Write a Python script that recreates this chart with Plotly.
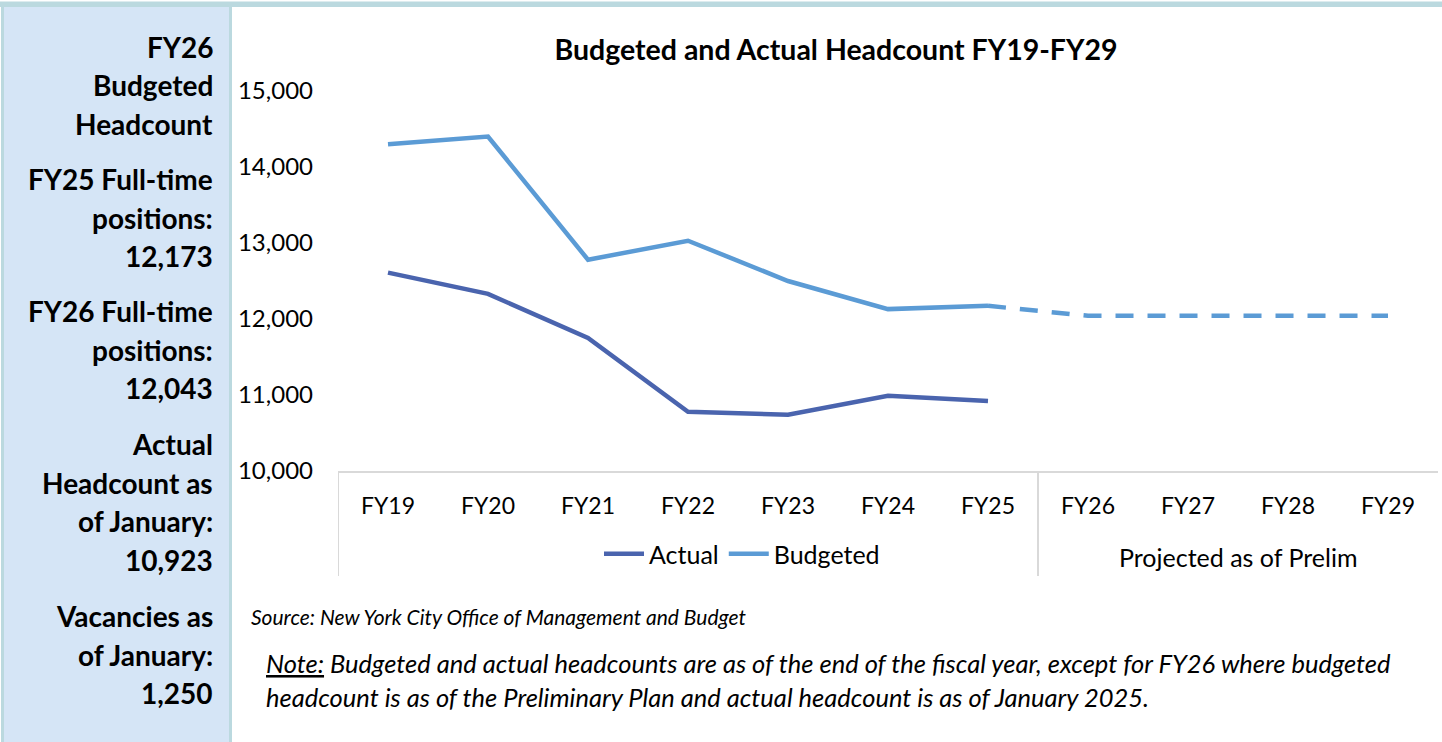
import plotly.graph_objects as go

# fiscal years on the category axis
years = ["FY19", "FY20", "FY21", "FY22", "FY23", "FY24", "FY25",
         "FY26", "FY27", "FY28", "FY29"]

# actual headcount, end of fiscal year
actual_years = years[:7]
actual = [12610, 12330, 11750, 10780, 10740, 10990, 10920]

# budgeted headcount, end of fiscal year
budget_years = years[:7]
budgeted = [14300, 14400, 12780, 13030, 12500, 12130, 12173]

# budgeted headcount projected as of the Preliminary Plan
proj_years = years[6:]
projected = [12173, 12043, 12043, 12043, 12043]

y_ticks = [10000, 11000, 12000, 13000, 14000, 15000]

sidebar = [
    ["FY26", "Budgeted", "Headcount"],
    ["FY25 Full-time", "positions:", "12,173"],
    ["FY26 Full-time", "positions:", "12,043"],
    ["Actual", "Headcount as", "of January:", "10,923"],
    ["Vacancies as", "of January:", "1,250"],
]

title = "Budgeted and Actual Headcount FY19-FY29"
source = "Source: New York City Office of Management and Budget"
note_lines = [
    "<span style='text-decoration:underline'>Note:</span> Budgeted and actual headcounts "
    "are as of the end of the fiscal year, except for FY26 where budgeted",
    "headcount is as of the Preliminary Plan and actual headcount is as of January 2025.",
]
group_label = "Projected as of Prelim"

ACTUAL_BLUE = "#4A64AE"
BUDGET_BLUE = "#5B9BD5"
SIDEBAR_FILL = "#D5E5F6"
BORDER = "#BBD9DF"
FONT = "Lato"

W, H = 1442, 742
L, R, T, B = 338, 4, 91, 271


def px_x(px):
    """pixel column -> paper x"""
    return (px - L) / (W - L - R)


def px_y(py):
    """pixel row -> paper y"""
    return (H - B - py) / (H - T - B)


fig = go.Figure()
fig.add_trace(go.Scatter(x=actual_years, y=actual, name="Actual", mode="lines",
                         line=dict(color=ACTUAL_BLUE, width=4.5)))
fig.add_trace(go.Scatter(x=budget_years, y=budgeted, name="Budgeted", mode="lines",
                         line=dict(color=BUDGET_BLUE, width=4.5)))
fig.add_trace(go.Scatter(x=proj_years, y=projected, mode="lines", showlegend=False,
                         line=dict(color=BUDGET_BLUE, width=4.5, dash="18px,14px")))

shapes = [
    # sidebar and frame
    dict(type="rect", xref="paper", yref="paper", x0=px_x(4), x1=px_x(229),
         y0=px_y(742), y1=px_y(7), fillcolor=SIDEBAR_FILL, line_width=0, layer="below"),
    dict(type="rect", xref="paper", yref="paper", x0=px_x(0), x1=px_x(1442),
         y0=px_y(7), y1=px_y(1.5), fillcolor=BORDER, line_width=0),
    dict(type="rect", xref="paper", yref="paper", x0=px_x(1), x1=px_x(4),
         y0=px_y(742), y1=px_y(7), fillcolor=BORDER, line_width=0),
    dict(type="rect", xref="paper", yref="paper", x0=px_x(229), x1=px_x(232),
         y0=px_y(742), y1=px_y(7), fillcolor=BORDER, line_width=0),
]
# category group dividers under the axis
for xd in [-0.5, 6.5]:
    shapes.append(dict(type="line", xref="x", yref="paper", x0=xd, x1=xd,
                       y0=px_y(576), y1=0, line=dict(color="#D9D9D9", width=2)))

annotations = []
for group, start in zip(sidebar, [47, 179, 311, 444, 616]):
    for i, line in enumerate(group):
        annotations.append(dict(text="<b>%s</b>" % line, xref="paper", yref="paper",
                                x=px_x(215), y=px_y(start + i * 38.5),
                                xanchor="right", yanchor="middle", showarrow=False,
                                font=dict(size=28, color="black")))

annotations.append(dict(text=group_label, xref="x", yref="paper", x=8.5, y=px_y(557),
                        xanchor="center", yanchor="middle", showarrow=False,
                        font=dict(size=25, color="black")))
annotations.append(dict(text="<i>%s</i>" % source, xref="paper", yref="paper",
                        x=px_x(249), y=px_y(616), xanchor="left", yanchor="middle",
                        showarrow=False, font=dict(size=21, color="black")))
for i, line in enumerate(note_lines):
    annotations.append(dict(text="<i>%s</i>" % line, xref="paper", yref="paper",
                            x=px_x(264), y=px_y(663 + i * 34), xanchor="left",
                            yanchor="middle", showarrow=False,
                            font=dict(size=25.5, color="black")))

fig.update_layout(
    width=W, height=H,
    margin=dict(l=L, r=R, t=T, b=B, pad=0),
    paper_bgcolor="white", plot_bgcolor="white",
    font=dict(family=FONT, color="black"),
    title=dict(text="<b>%s</b>" % title, x=836 / W, xanchor="center",
               y=1 - 50 / H, yanchor="middle", font=dict(size=28.5, color="black")),
    legend=dict(orientation="h", x=px_x(742), xanchor="center", y=px_y(554),
                yanchor="middle", font=dict(size=25), bgcolor="rgba(0,0,0,0)",
                itemwidth=40),
    shapes=shapes,
    annotations=annotations,
    showlegend=True,
)
fig.update_xaxes(type="category", categoryorder="array", categoryarray=years,
                 range=[-0.5, 10.5], showgrid=False, showline=True, linecolor="#D9D9D9",
                 linewidth=2, ticks="", tickfont=dict(size=23), ticklabelstandoff=13,
                 zeroline=False)
fig.update_yaxes(range=[10000, 15000], tickvals=y_ticks, tickformat=",d", showgrid=False,
                 showline=False, zeroline=False, ticks="", tickfont=dict(size=24),
                 ticklabelstandoff=24)

# drop the browser's default body margin so the figure fills the window
fig.write_html("out.html", config={"displayModeBar": False},
               post_script="document.body.style.margin='0';")
